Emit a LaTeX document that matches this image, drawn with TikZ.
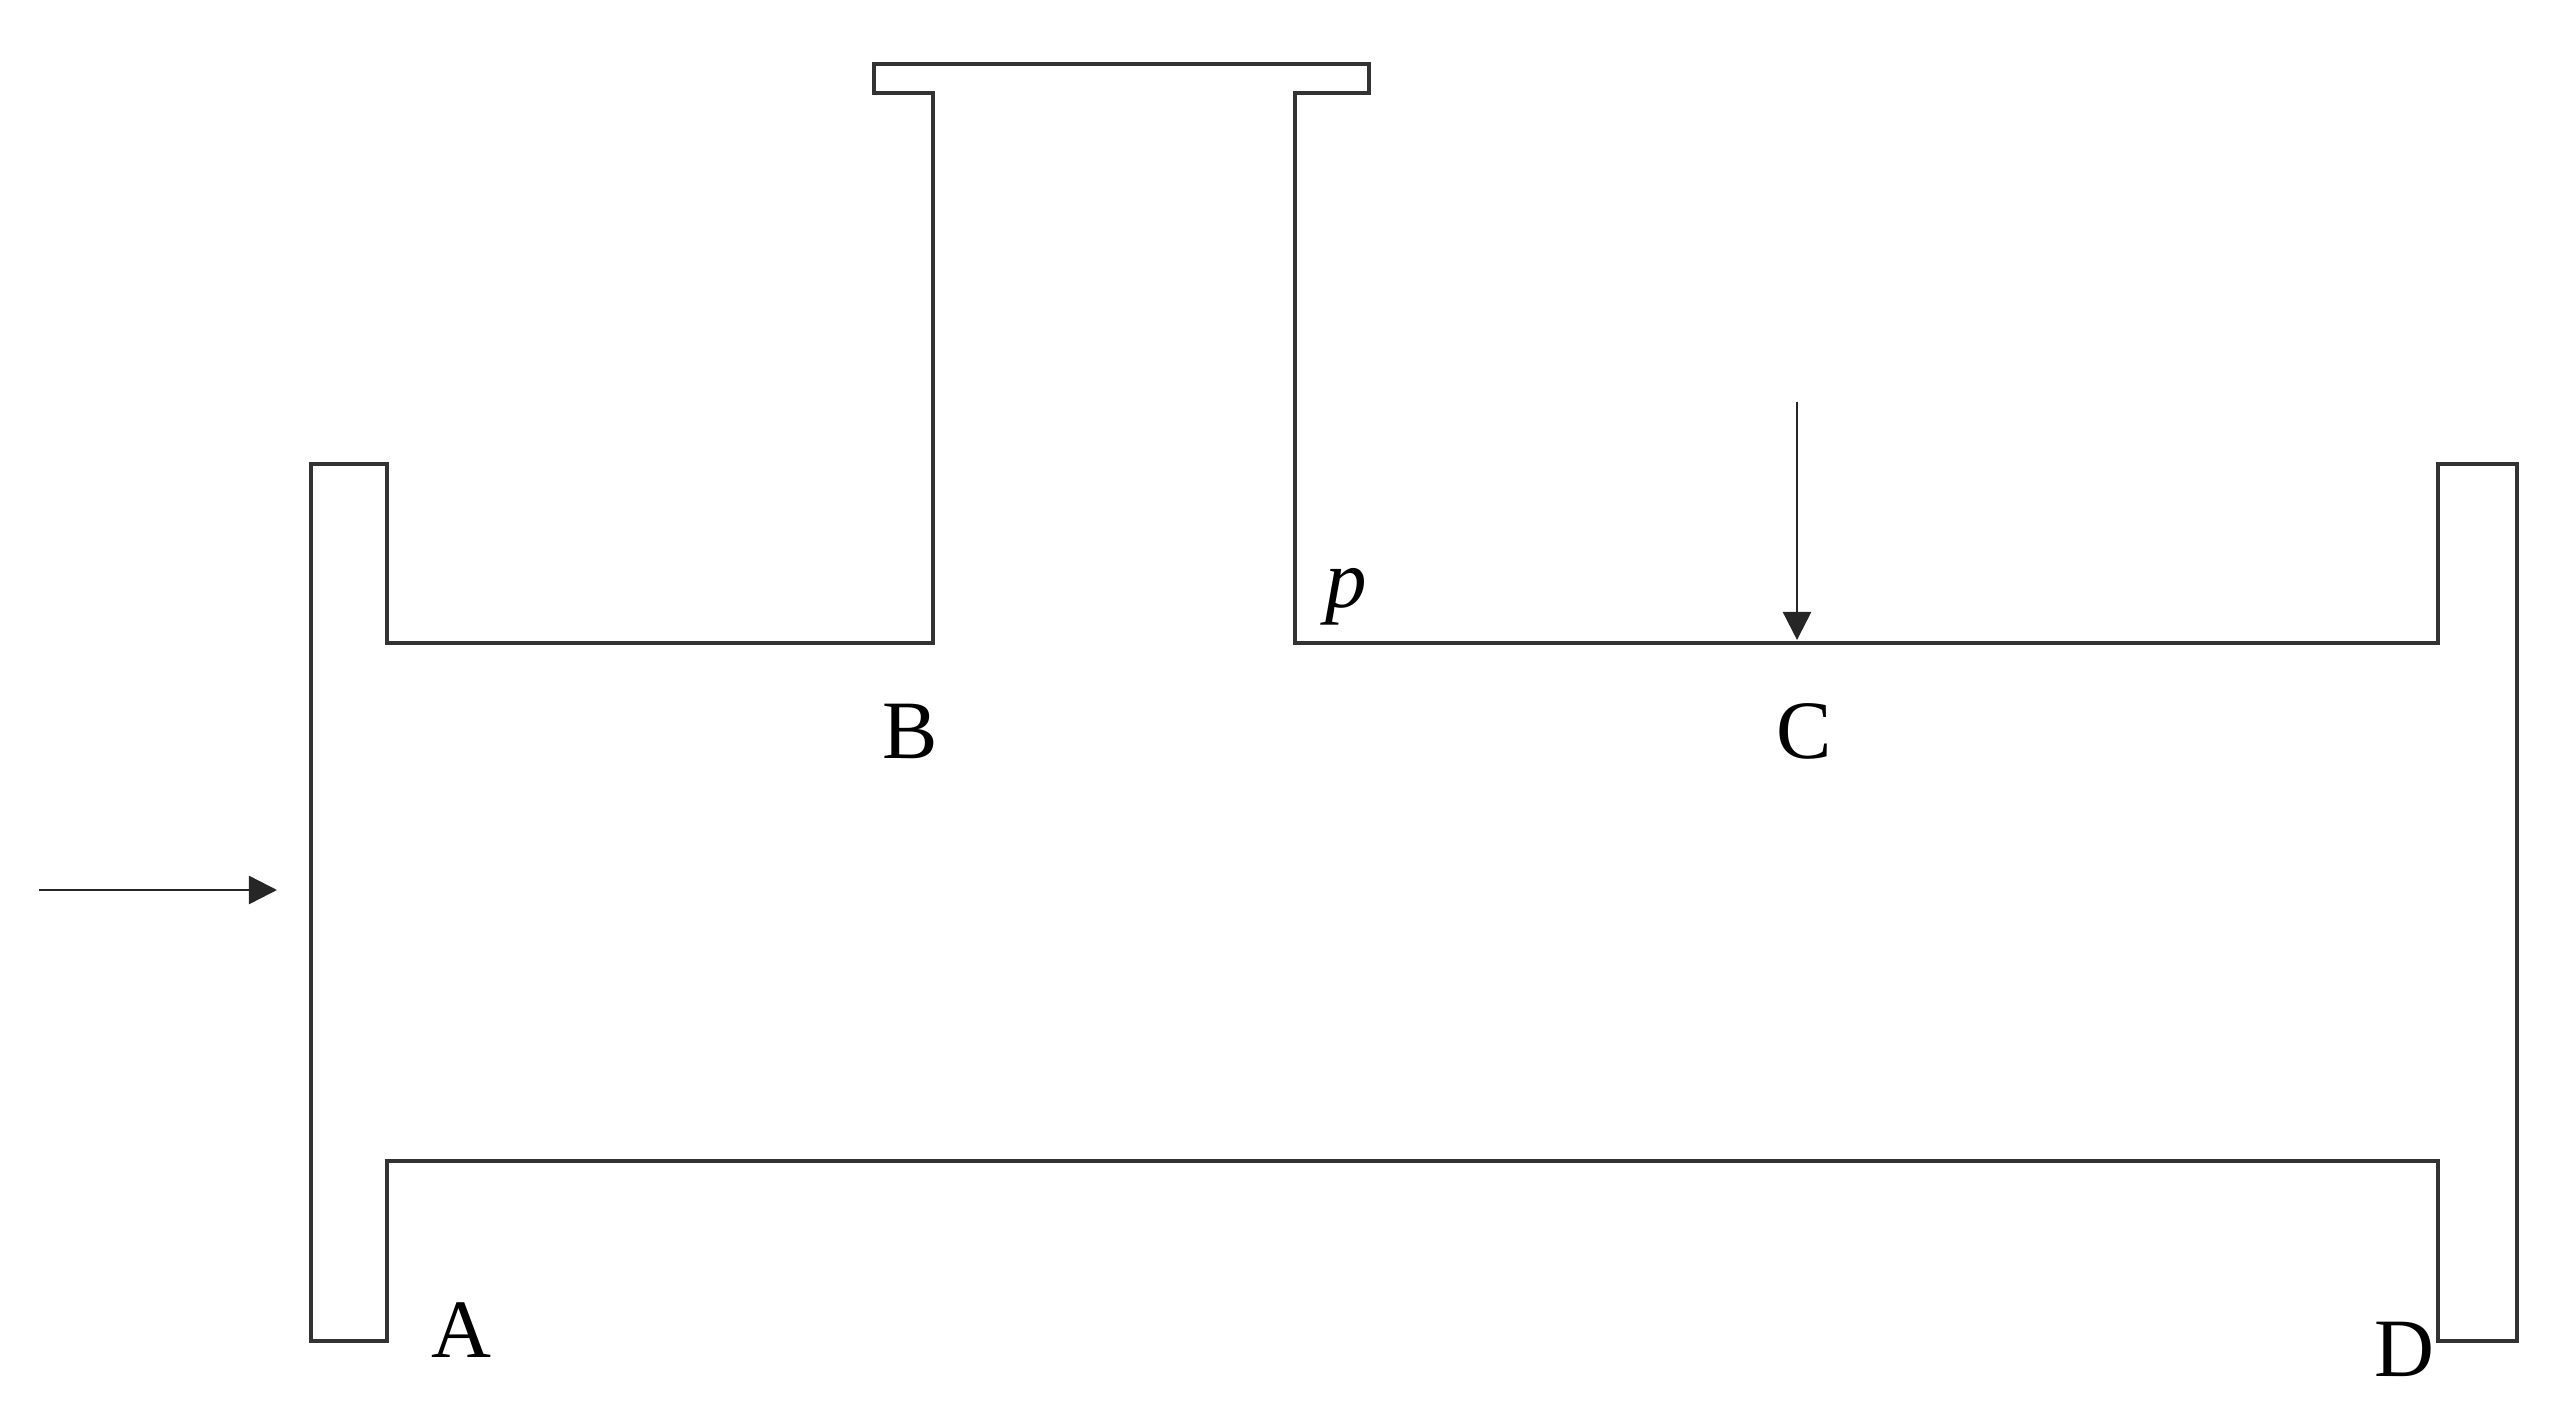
\documentclass[tikz,border=0pt]{standalone}
\usepackage{fontspec}
\setmainfont{Liberation Serif}
\usetikzlibrary{arrows.meta}
\tikzset{
  pipe/.style={line width=1.15pt, draw=black!80, line join=miter},
  flow/.style={line width=0.7pt, draw=black!85, -{Triangle[length=8pt,width=8pt]}},
  lbl/.style={font=\fontsize{23.6pt}{28pt}\selectfont, inner sep=0pt}
}
\begin{document}
\begin{tikzpicture}[x=0.01cm,y=-0.01cm]
                \useasboundingbox (0,0) rectangle (2558,1419);
                \draw[pipe] (311,464) -- (387,464) -- (387,643) -- (933,643) -- (933,93)
                    -- (874,93) -- (874,64) -- (1369,64) -- (1369,93) -- (1295,93)
                    -- (1295,643) -- (2438,643) -- (2438,464) -- (2517,464) -- (2517,1341)
                    -- (2438,1341) -- (2438,1161) -- (387,1161) -- (387,1341) -- (311,1341) -- cycle;
                \coordinate (in1) at (39,890);
                \coordinate (in2) at (277,890);
                \draw[flow] (in1) -- (in2);
                \coordinate (top1) at (1797,402);
                \coordinate (top2) at (1797,640);
                \draw[flow] (top1) -- (top2);
                \node[lbl] (A) at (461,1330) {A};
                \node[lbl] (B) at (910,731) {B};
                \node[lbl] (C) at (1804,731) {C};
                \node[lbl] (D) at (2404,1349) {D};
                \node[lbl] (p) at (1346,597) {\textit{p}};
                \end{tikzpicture}
\end{document}
